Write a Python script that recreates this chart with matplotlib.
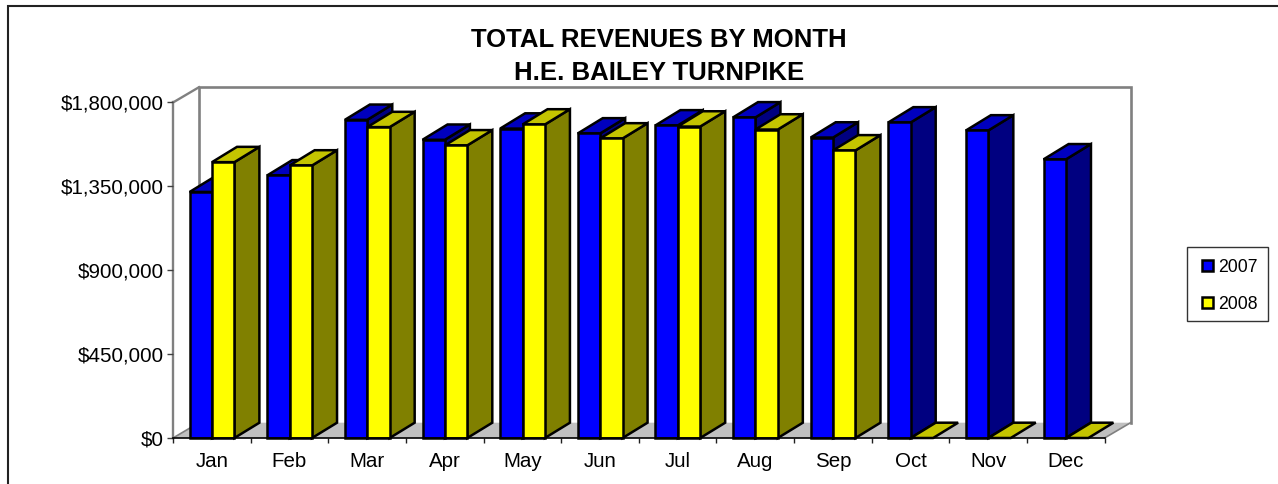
import matplotlib
matplotlib.use("Agg")
import matplotlib.pyplot as plt
from matplotlib.patches import Polygon, Rectangle
from matplotlib.lines import Line2D

months = ["Jan", "Feb", "Mar", "Apr", "May", "Jun", "Jul", "Aug", "Sep", "Oct", "Nov", "Dec"]
rev_2007 = [1320000, 1409000, 1707000, 1600000, 1660000, 1634000, 1677000, 1720000, 1612000, 1693000, 1650000, 1495000]
rev_2008 = [1480000, 1462000, 1668000, 1570000, 1682000, 1607000, 1671000, 1655000, 1543000, 0, 0, 0]
y_ticks = [0, 450000, 900000, 1350000, 1800000]
y_labels = ["$0", "$450,000", "$900,000", "$1,350,000", "$1,800,000"]
series_names = ["2007", "2008"]

plt.rcParams["font.family"] = ["Liberation Sans", "DejaVu Sans"]
W, H = 1278, 484
fig = plt.figure(figsize=(W / 100, H / 100), dpi=100)

L, R, B, T = 173.0, 1104.6, 438.0, 102.5
ax = fig.add_axes([L / W, 1 - B / H, (R - L) / W, (B - T) / H])
ax.set_xlim(0, 12)
ax.set_ylim(0, 1800000)
ax.patch.set_visible(False)
for s in ax.spines.values():
    s.set_visible(False)

UX = (R - L) / 12
UY = (B - T) / 1800000
DX = 26 / UX
DY = 15.3 / UY
BDX = 25 / UX
BDY = 15.3 / UY

GREY = "#808080"
ax.add_patch(Polygon([(0, 0), (12, 0), (12 + DX, DY), (DX, DY)], closed=True, fc="#C0C0C0", ec="none", clip_on=False, zorder=1))
ax.plot([12 + DX, 12 + DX, DX, DX], [DY, 1800000 + DY, 1800000 + DY, DY], color=GREY, lw=1.9, clip_on=False, zorder=1, solid_joinstyle="miter")
ax.plot([0, DX], [1800000, 1800000 + DY], color=GREY, lw=1.7, clip_on=False, zorder=1)
ax.plot([0, DX], [0, DY], color=GREY, lw=1.2, clip_on=False, zorder=1)
ax.plot([12, 12 + DX], [0, DY], color=GREY, lw=1.2, clip_on=False, zorder=1)
ax.plot([0, 0], [0, 1800000], color=GREY, lw=1.7, clip_on=False, zorder=1)


def bar3d(x0, w, v, front, top, side, z):
    kw = dict(closed=True, ec="black", lw=1.8, joinstyle="miter", clip_on=False, zorder=z)
    if v > 0:
        ax.add_patch(Polygon([(x0 + w, 0), (x0 + w + BDX, BDY), (x0 + w + BDX, v + BDY), (x0 + w, v)], fc=side, **kw))
        ax.add_patch(Polygon([(x0, v), (x0 + w, v), (x0 + w + BDX, v + BDY), (x0 + BDX, v + BDY)], fc=top, **kw))
        ax.add_patch(Polygon([(x0, 0), (x0 + w, 0), (x0 + w, v), (x0, v)], fc=front, **kw))
    else:
        ax.add_patch(Polygon([(x0, 0), (x0 + w, 0), (x0 + w + BDX, BDY), (x0 + BDX, BDY)], fc=top, **kw))


bw = 22.4 / UX
start = 16.6 / UX
for i in range(len(months)):
    z = 3 + i * 2
    bar3d(i + start, bw, rev_2007[i], "#0000FF", "#0000BF", "#000080", z)
    bar3d(i + start + bw, bw, rev_2008[i], "#FFFF00", "#C4C400", "#808000", z + 1)

ax.plot([0, 12], [0, 0], color="black", lw=1.2, clip_on=False, zorder=60)
ax.set_xticks(range(13))
ax.set_xticklabels([])
ax.set_yticks(y_ticks)
ax.set_yticklabels(y_labels)
ax.tick_params(axis="y", length=4.3, width=1.0, color="#404040", labelsize=14.8, pad=2.6, labelcolor="black")
ax.tick_params(axis="x", length=3.6, width=1.0, color="#202020")
for i, m in enumerate(months):
    ax.annotate(m, xy=(i + 0.5, 0), xytext=(0, -10), textcoords="offset points", ha="center", va="top", fontsize=14.8, annotation_clip=False)

fig.text(659 / W, 1 - 47 / H, "TOTAL REVENUES BY MONTH", ha="center", va="baseline", fontsize=18.5, fontweight="bold")
fig.text(659 / W, 1 - 79.5 / H, "H.E. BAILEY TURNPIKE", ha="center", va="baseline", fontsize=18.5, fontweight="bold")

fig.add_artist(Line2D([7.5 / W, 7.5 / W, 1], [0, 1 - 5.5 / H, 1 - 5.5 / H], color="#222222", lw=1.5, solid_joinstyle="miter"))

fig.add_artist(Rectangle((1186.5 / W, 1 - 321 / H), 81.5 / W, 74 / H, transform=fig.transFigure, fc="white", ec="#333333", lw=1.0))
for name, col, yc in zip(series_names, ["#0000FF", "#FFFF00"], [265.5, 302.5]):
    fig.add_artist(Rectangle((1202 / W, 1 - (yc + 5.5) / H), 11 / W, 11 / H, transform=fig.transFigure, fc=col, ec="black", lw=1.8))
    fig.text(1218 / W, 1 - (yc + 6.5) / H, name, ha="left", va="baseline", fontsize=12.7)

fig.savefig("out.png", dpi=100)
